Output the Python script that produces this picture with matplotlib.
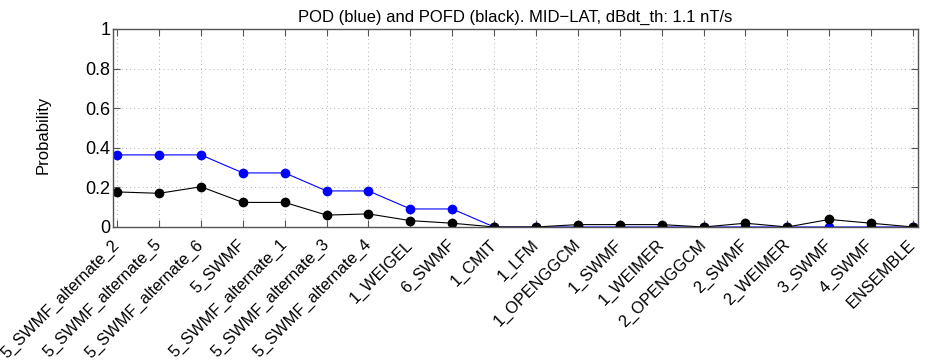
""" Skill scores per model: POD and POFD at the mid-latitude stations. """

import numpy as np
import matplotlib
matplotlib.use("Agg")
import matplotlib.pyplot as plt

plt.rcParams['font.family'] = ['Liberation Sans', 'DejaVu Sans']

""" DATA """
models = [
    "5_SWMF_alternate_2", "5_SWMF_alternate_5", "5_SWMF_alternate_6",
    "5_SWMF", "5_SWMF_alternate_1", "5_SWMF_alternate_3",
    "5_SWMF_alternate_4", "1_WEIGEL", "6_SWMF", "1_CMIT", "1_LFM",
    "1_OPENGGCM", "1_SWMF", "1_WEIMER", "2_OPENGGCM", "2_SWMF",
    "2_WEIMER", "3_SWMF", "4_SWMF", "ENSEMBLE",
]

pod = [0.364, 0.364, 0.364, 0.273, 0.273, 0.182, 0.182, 0.091, 0.091,
       0.0, 0.0, 0.0, 0.0, 0.0, 0.0, 0.0, 0.0, 0.0, 0.0, 0.0]
pofd = [0.177, 0.170, 0.203, 0.124, 0.124, 0.060, 0.066, 0.032, 0.019,
        0.0, 0.0, 0.012, 0.012, 0.012, 0.0, 0.019, 0.0, 0.038, 0.019, 0.0]

""" PLOT """
x = np.arange(1, len(models) + 1)

fig = plt.figure(figsize=(9.31, 3.62), dpi=100)
ax = fig.add_axes([0.1214, 0.373, 0.8646, 0.547])

ax.plot(x, pod, '-o', color=(0, 0, 1), lw=0.8, ms=6, mec=(0, 0, 1))
ax.plot(x, pofd, '-o', color='black', lw=0.8, ms=6)

ax.set_xlim(0.9, len(models) + 0.12)
ax.set_ylim(0, 1)
ax.set_xticks(x)
ax.set_xticklabels(models, rotation=45, ha='right', va='center',
                   rotation_mode='anchor', fontsize=11.8)
ax.set_yticks([0, 0.2, 0.4, 0.6, 0.8, 1.0])
ax.set_yticklabels(["0", "0.2", "0.4", "0.6", "0.8", "1"], fontsize=13)

ax.tick_params(direction='in', top=True, right=True, length=5,
               width=0.8, color='#555555', pad=2)
ax.tick_params(axis='x', pad=11)
ax.grid(True, linestyle=(0, (1, 4)), color='#999999', lw=0.6)
for s in ax.spines.values():
    s.set_color('#555555')
    s.set_linewidth(1.0)

ax.set_ylabel("Probability", fontsize=12)
ax.yaxis.set_label_coords(-0.078, 0.467)
ax.set_title("POD (blue) and POFD (black). MID\u2212LAT, dBdt_th: 1.1 nT/s",
             fontsize=12, pad=5)

fig.savefig("out.png", dpi=100)
